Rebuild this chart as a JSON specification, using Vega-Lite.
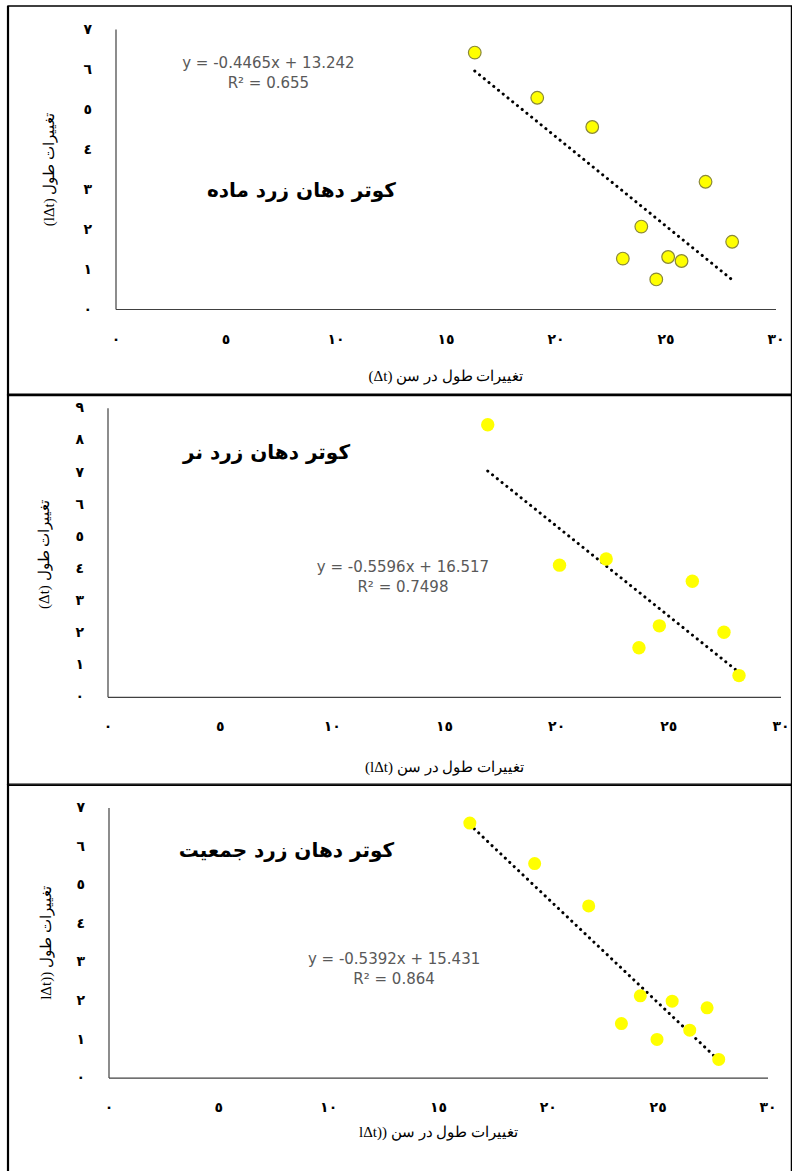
{
  "$schema": "https://vega.github.io/schema/vega-lite/v6.json",
  "padding": {"left": 6.5, "top": 4, "right": 0, "bottom": 0},
  "background": "white",
  "columns": 1,
  "align": "none",
  "spacing": -4.2,
  "config": {
    "view": {"stroke": null},
    "axisX": {"grid": false, "ticks": false, "tickSize": 0, "domainColor": "#404040", "domainWidth": 1.2, "labelFont": "DejaVu Sans", "labelFontWeight": "bold", "labelFontSize": 14, "labelColor": "black", "labelPadding": 23, "labelFlush": false, "labelOverlap": false, "titleFont": "Liberation Serif", "titleFontSize": 15, "titleFontWeight": "normal", "titleColor": "black", "titleBaseline": "middle"},
    "axisY": {"grid": false, "ticks": false, "tickSize": 0, "domainColor": "#404040", "domainWidth": 1.2, "labelFont": "DejaVu Sans", "labelFontWeight": "bold", "labelFontSize": 14, "labelColor": "black", "labelPadding": 24, "labelFlush": false, "labelOverlap": false, "titleFont": "Liberation Serif", "titleFontSize": 15, "titleFontWeight": "normal", "titleColor": "black", "titleAngle": 270, "titleBaseline": "middle", "titleAlign": "center"}
  },
  "datasets": {
    "female": [
      {"x": 16.33, "y": 6.41}, {"x": 19.17, "y": 5.28}, {"x": 21.67, "y": 4.55}, {"x": 26.82, "y": 3.18}, {"x": 23.9, "y": 2.06},
      {"x": 28.03, "y": 1.68}, {"x": 23.06, "y": 1.26}, {"x": 25.12, "y": 1.3}, {"x": 25.73, "y": 1.2}, {"x": 24.58, "y": 0.74}
    ],
    "female_trend": [{"x": 16.33, "y": 5.95}, {"x": 28.03, "y": 0.73}],
    "male": [
      {"x": 16.95, "y": 8.47}, {"x": 20.15, "y": 4.1}, {"x": 22.23, "y": 4.29}, {"x": 26.07, "y": 3.6},
      {"x": 24.6, "y": 2.21}, {"x": 23.69, "y": 1.53}, {"x": 27.48, "y": 2.01}, {"x": 28.15, "y": 0.66}
    ],
    "male_trend": [{"x": 16.95, "y": 7.03}, {"x": 28.15, "y": 0.76}],
    "pop": [
      {"x": 16.45, "y": 6.6}, {"x": 19.4, "y": 5.55}, {"x": 21.86, "y": 4.45}, {"x": 24.21, "y": 2.12}, {"x": 25.66, "y": 1.98},
      {"x": 27.25, "y": 1.81}, {"x": 23.35, "y": 1.4}, {"x": 26.46, "y": 1.23}, {"x": 24.97, "y": 0.99}, {"x": 27.78, "y": 0.47}
    ],
    "pop_trend": [{"x": 16.45, "y": 6.56}, {"x": 27.78, "y": 0.45}]
  },
  "concat": [
    {
      "width": 660, "height": 280,
      "layer": [
        {
          "data": {"values": [{}]},
          "mark": {"type": "rect", "filled": false, "color": "black", "strokeWidth": 1.4, "clip": false},
          "encoding": {
            "x": {"datum": -4.886, "type": "quantitative", "scale": {"domain": [0, 30], "nice": false, "zero": false},
                  "axis": {"values": [0, 5, 10, 15, 20, 25, 30], "labelOverlap": false, "title": "(Δt) تغییرات طول در سن", "titleY": 66, "labelExpr": "replace(replace(replace(replace(replace(replace(replace(replace(replace(replace(datum.label,'0','٠'),'1','١'),'2','٢'),'3','٣'),'4','٤'),'5','٥'),'6','٦'),'7','٧'),'8','٨'),'9','٩')"}},
            "x2": {"datum": 30.727},
            "y": {"datum": 7.575, "type": "quantitative", "scale": {"domain": [0, 7], "nice": false, "zero": false},
                  "axis": {"values": [0, 1, 2, 3, 4, 5, 6, 7], "labelOverlap": false, "title": "(lΔt) تغییرات طول", "titleX": -67, "titleY": 140, "labelExpr": "replace(replace(replace(replace(replace(replace(replace(replace(replace(replace(datum.label,'0','٠'),'1','١'),'2','٢'),'3','٣'),'4','٤'),'5','٥'),'6','٦'),'7','٧'),'8','٨'),'9','٩')"}},
            "y2": {"datum": -2.1625}
          }
        },
        {
          "data": {"values": [{}]},
          "mark": {"type": "rule", "color": "black", "strokeWidth": 2.2, "clip": false},
          "encoding": {
            "x": {"datum": -4.886, "type": "quantitative", "scale": {"domain": [0, 30], "nice": false, "zero": false},
                  "axis": {"values": [0, 5, 10, 15, 20, 25, 30], "labelOverlap": false, "title": "(Δt) تغییرات طول در سن", "titleY": 66, "labelExpr": "replace(replace(replace(replace(replace(replace(replace(replace(replace(replace(datum.label,'0','٠'),'1','١'),'2','٢'),'3','٣'),'4','٤'),'5','٥'),'6','٦'),'7','٧'),'8','٨'),'9','٩')"}},
            "y": {"datum": 7.575, "type": "quantitative", "scale": {"domain": [0, 7], "nice": false, "zero": false},
                  "axis": {"values": [0, 1, 2, 3, 4, 5, 6, 7], "labelOverlap": false, "title": "(lΔt) تغییرات طول", "titleX": -67, "titleY": 140, "labelExpr": "replace(replace(replace(replace(replace(replace(replace(replace(replace(replace(datum.label,'0','٠'),'1','١'),'2','٢'),'3','٣'),'4','٤'),'5','٥'),'6','٦'),'7','٧'),'8','٨'),'9','٩')"}},
            "y2": {"datum": -2.1625}
          }
        },
        {
          "data": {"name": "female_trend"},
          "mark": {"type": "line", "color": "black", "strokeWidth": 3, "strokeDash": [0.1, 6], "strokeCap": "round"},
          "encoding": {
            "x": {"field": "x", "type": "quantitative", "scale": {"domain": [0, 30], "nice": false, "zero": false},
                  "axis": {"values": [0, 5, 10, 15, 20, 25, 30], "labelOverlap": false, "title": "(Δt) تغییرات طول در سن", "titleY": 66, "labelExpr": "replace(replace(replace(replace(replace(replace(replace(replace(replace(replace(datum.label,'0','٠'),'1','١'),'2','٢'),'3','٣'),'4','٤'),'5','٥'),'6','٦'),'7','٧'),'8','٨'),'9','٩')"}},
            "y": {"field": "y", "type": "quantitative", "scale": {"domain": [0, 7], "nice": false, "zero": false},
                  "axis": {"values": [0, 1, 2, 3, 4, 5, 6, 7], "labelOverlap": false, "title": "(lΔt) تغییرات طول", "titleX": -67, "titleY": 140, "labelExpr": "replace(replace(replace(replace(replace(replace(replace(replace(replace(replace(datum.label,'0','٠'),'1','١'),'2','٢'),'3','٣'),'4','٤'),'5','٥'),'6','٦'),'7','٧'),'8','٨'),'9','٩')"}}
          }
        },
        {
          "data": {"name": "female"},
          "mark": {"type": "circle", "fill": "#FFFF00", "stroke": "#8a8838", "strokeWidth": 1.2, "size": 160, "opacity": 1},
          "encoding": {
            "x": {"field": "x", "type": "quantitative", "scale": {"domain": [0, 30], "nice": false, "zero": false},
                  "axis": {"values": [0, 5, 10, 15, 20, 25, 30], "labelOverlap": false, "title": "(Δt) تغییرات طول در سن", "titleY": 66, "labelExpr": "replace(replace(replace(replace(replace(replace(replace(replace(replace(replace(datum.label,'0','٠'),'1','١'),'2','٢'),'3','٣'),'4','٤'),'5','٥'),'6','٦'),'7','٧'),'8','٨'),'9','٩')"}},
            "y": {"field": "y", "type": "quantitative", "scale": {"domain": [0, 7], "nice": false, "zero": false},
                  "axis": {"values": [0, 1, 2, 3, 4, 5, 6, 7], "labelOverlap": false, "title": "(lΔt) تغییرات طول", "titleX": -67, "titleY": 140, "labelExpr": "replace(replace(replace(replace(replace(replace(replace(replace(replace(replace(datum.label,'0','٠'),'1','١'),'2','٢'),'3','٣'),'4','٤'),'5','٥'),'6','٦'),'7','٧'),'8','٨'),'9','٩')"}}
          }
        },
        {
          "data": {"values": [{}]},
          "mark": {"type": "text", "font": "DejaVu Sans", "fontSize": 15, "lineHeight": 20, "color": "#595959", "align": "center", "baseline": "middle"},
          "encoding": {
            "x": {"datum": 6.95, "type": "quantitative", "scale": {"domain": [0, 30], "nice": false, "zero": false},
                  "axis": {"values": [0, 5, 10, 15, 20, 25, 30], "labelOverlap": false, "title": "(Δt) تغییرات طول در سن", "titleY": 66, "labelExpr": "replace(replace(replace(replace(replace(replace(replace(replace(replace(replace(datum.label,'0','٠'),'1','١'),'2','٢'),'3','٣'),'4','٤'),'5','٥'),'6','٦'),'7','٧'),'8','٨'),'9','٩')"}},
            "y": {"datum": 6.15, "type": "quantitative", "scale": {"domain": [0, 7], "nice": false, "zero": false},
                  "axis": {"values": [0, 1, 2, 3, 4, 5, 6, 7], "labelOverlap": false, "title": "(lΔt) تغییرات طول", "titleX": -67, "titleY": 140, "labelExpr": "replace(replace(replace(replace(replace(replace(replace(replace(replace(replace(datum.label,'0','٠'),'1','١'),'2','٢'),'3','٣'),'4','٤'),'5','٥'),'6','٦'),'7','٧'),'8','٨'),'9','٩')"}},
            "text": {"value": ["y = -0.4465x + 13.242", "R² = 0.655"]}
          }
        },
        {
          "data": {"values": [{}]},
          "mark": {"type": "text", "font": "DejaVu Sans", "fontSize": 20, "fontWeight": "bold", "color": "black", "align": "center", "baseline": "middle"},
          "encoding": {
            "x": {"datum": 8.45, "type": "quantitative", "scale": {"domain": [0, 30], "nice": false, "zero": false},
                  "axis": {"values": [0, 5, 10, 15, 20, 25, 30], "labelOverlap": false, "title": "(Δt) تغییرات طول در سن", "titleY": 66, "labelExpr": "replace(replace(replace(replace(replace(replace(replace(replace(replace(replace(datum.label,'0','٠'),'1','١'),'2','٢'),'3','٣'),'4','٤'),'5','٥'),'6','٦'),'7','٧'),'8','٨'),'9','٩')"}},
            "y": {"datum": 2.95, "type": "quantitative", "scale": {"domain": [0, 7], "nice": false, "zero": false},
                  "axis": {"values": [0, 1, 2, 3, 4, 5, 6, 7], "labelOverlap": false, "title": "(lΔt) تغییرات طول", "titleX": -67, "titleY": 140, "labelExpr": "replace(replace(replace(replace(replace(replace(replace(replace(replace(replace(datum.label,'0','٠'),'1','١'),'2','٢'),'3','٣'),'4','٤'),'5','٥'),'6','٦'),'7','٧'),'8','٨'),'9','٩')"}},
            "text": {"value": "کوتر دهان زرد ماده"}
          }
        }
      ]
    },
    {
      "width": 673, "height": 289,
      "layer": [
        {
          "data": {"values": [{}]},
          "mark": {"type": "rect", "filled": false, "color": "black", "strokeWidth": 1.4, "clip": false},
          "encoding": {
            "x": {"datum": -4.435, "type": "quantitative", "scale": {"domain": [0, 30], "range": [-8, 665], "nice": false, "zero": false},
                  "axis": {"values": [0, 5, 10, 15, 20, 25, 30], "labelOverlap": false, "title": "(lΔt) تغییرات طول در سن", "titleY": 70, "labelExpr": "replace(replace(replace(replace(replace(replace(replace(replace(replace(replace(datum.label,'0','٠'),'1','١'),'2','٢'),'3','٣'),'4','٤'),'5','٥'),'6','٦'),'7','٧'),'8','٨'),'9','٩')"}},
            "x2": {"datum": 30.49},
            "y": {"datum": 9.42, "type": "quantitative", "scale": {"domain": [0, 9], "nice": false, "zero": false},
                  "axis": {"values": [0, 1, 2, 3, 4, 5, 6, 7, 8, 9], "labelOverlap": false, "offset": 8, "title": "(Δt) تغییرات طول", "titleX": -64, "titleY": 146, "labelExpr": "replace(replace(replace(replace(replace(replace(replace(replace(replace(replace(datum.label,'0','٠'),'1','١'),'2','٢'),'3','٣'),'4','٤'),'5','٥'),'6','٦'),'7','٧'),'8','٨'),'9','٩')"}},
            "y2": {"datum": -2.756}
          }
        },
        {
          "data": {"values": [{}]},
          "mark": {"type": "rule", "color": "black", "strokeWidth": 2.2, "clip": false},
          "encoding": {
            "x": {"datum": -4.435, "type": "quantitative", "scale": {"domain": [0, 30], "range": [-8, 665], "nice": false, "zero": false},
                  "axis": {"values": [0, 5, 10, 15, 20, 25, 30], "labelOverlap": false, "title": "(lΔt) تغییرات طول در سن", "titleY": 70, "labelExpr": "replace(replace(replace(replace(replace(replace(replace(replace(replace(replace(datum.label,'0','٠'),'1','١'),'2','٢'),'3','٣'),'4','٤'),'5','٥'),'6','٦'),'7','٧'),'8','٨'),'9','٩')"}},
            "y": {"datum": 9.42, "type": "quantitative", "scale": {"domain": [0, 9], "nice": false, "zero": false},
                  "axis": {"values": [0, 1, 2, 3, 4, 5, 6, 7, 8, 9], "labelOverlap": false, "offset": 8, "title": "(Δt) تغییرات طول", "titleX": -64, "titleY": 146, "labelExpr": "replace(replace(replace(replace(replace(replace(replace(replace(replace(replace(datum.label,'0','٠'),'1','١'),'2','٢'),'3','٣'),'4','٤'),'5','٥'),'6','٦'),'7','٧'),'8','٨'),'9','٩')"}},
            "y2": {"datum": -2.756}
          }
        },
        {
          "data": {"name": "male_trend"},
          "mark": {"type": "line", "color": "black", "strokeWidth": 3, "strokeDash": [0.1, 6], "strokeCap": "round"},
          "encoding": {
            "x": {"field": "x", "type": "quantitative", "scale": {"domain": [0, 30], "range": [-8, 665], "nice": false, "zero": false},
                  "axis": {"values": [0, 5, 10, 15, 20, 25, 30], "labelOverlap": false, "title": "(lΔt) تغییرات طول در سن", "titleY": 70, "labelExpr": "replace(replace(replace(replace(replace(replace(replace(replace(replace(replace(datum.label,'0','٠'),'1','١'),'2','٢'),'3','٣'),'4','٤'),'5','٥'),'6','٦'),'7','٧'),'8','٨'),'9','٩')"}},
            "y": {"field": "y", "type": "quantitative", "scale": {"domain": [0, 9], "nice": false, "zero": false},
                  "axis": {"values": [0, 1, 2, 3, 4, 5, 6, 7, 8, 9], "labelOverlap": false, "offset": 8, "title": "(Δt) تغییرات طول", "titleX": -64, "titleY": 146, "labelExpr": "replace(replace(replace(replace(replace(replace(replace(replace(replace(replace(datum.label,'0','٠'),'1','١'),'2','٢'),'3','٣'),'4','٤'),'5','٥'),'6','٦'),'7','٧'),'8','٨'),'9','٩')"}}
          }
        },
        {
          "data": {"name": "male"},
          "mark": {"type": "circle", "fill": "#FFFF00", "size": 180, "opacity": 1},
          "encoding": {
            "x": {"field": "x", "type": "quantitative", "scale": {"domain": [0, 30], "range": [-8, 665], "nice": false, "zero": false},
                  "axis": {"values": [0, 5, 10, 15, 20, 25, 30], "labelOverlap": false, "title": "(lΔt) تغییرات طول در سن", "titleY": 70, "labelExpr": "replace(replace(replace(replace(replace(replace(replace(replace(replace(replace(datum.label,'0','٠'),'1','١'),'2','٢'),'3','٣'),'4','٤'),'5','٥'),'6','٦'),'7','٧'),'8','٨'),'9','٩')"}},
            "y": {"field": "y", "type": "quantitative", "scale": {"domain": [0, 9], "nice": false, "zero": false},
                  "axis": {"values": [0, 1, 2, 3, 4, 5, 6, 7, 8, 9], "labelOverlap": false, "offset": 8, "title": "(Δt) تغییرات طول", "titleX": -64, "titleY": 146, "labelExpr": "replace(replace(replace(replace(replace(replace(replace(replace(replace(replace(datum.label,'0','٠'),'1','١'),'2','٢'),'3','٣'),'4','٤'),'5','٥'),'6','٦'),'7','٧'),'8','٨'),'9','٩')"}}
          }
        },
        {
          "data": {"values": [{}]},
          "mark": {"type": "text", "font": "DejaVu Sans", "fontSize": 15, "lineHeight": 20, "color": "#595959", "align": "center", "baseline": "middle"},
          "encoding": {
            "x": {"datum": 13.17, "type": "quantitative", "scale": {"domain": [0, 30], "range": [-8, 665], "nice": false, "zero": false},
                  "axis": {"values": [0, 5, 10, 15, 20, 25, 30], "labelOverlap": false, "title": "(lΔt) تغییرات طول در سن", "titleY": 70, "labelExpr": "replace(replace(replace(replace(replace(replace(replace(replace(replace(replace(datum.label,'0','٠'),'1','١'),'2','٢'),'3','٣'),'4','٤'),'5','٥'),'6','٦'),'7','٧'),'8','٨'),'9','٩')"}},
            "y": {"datum": 4.05, "type": "quantitative", "scale": {"domain": [0, 9], "nice": false, "zero": false},
                  "axis": {"values": [0, 1, 2, 3, 4, 5, 6, 7, 8, 9], "labelOverlap": false, "offset": 8, "title": "(Δt) تغییرات طول", "titleX": -64, "titleY": 146, "labelExpr": "replace(replace(replace(replace(replace(replace(replace(replace(replace(replace(datum.label,'0','٠'),'1','١'),'2','٢'),'3','٣'),'4','٤'),'5','٥'),'6','٦'),'7','٧'),'8','٨'),'9','٩')"}},
            "text": {"value": ["y = -0.5596x + 16.517", "R² = 0.7498"]}
          }
        },
        {
          "data": {"values": [{}]},
          "mark": {"type": "text", "font": "DejaVu Sans", "fontSize": 20, "fontWeight": "bold", "color": "black", "align": "center", "baseline": "middle"},
          "encoding": {
            "x": {"datum": 7.09, "type": "quantitative", "scale": {"domain": [0, 30], "range": [-8, 665], "nice": false, "zero": false},
                  "axis": {"values": [0, 5, 10, 15, 20, 25, 30], "labelOverlap": false, "title": "(lΔt) تغییرات طول در سن", "titleY": 70, "labelExpr": "replace(replace(replace(replace(replace(replace(replace(replace(replace(replace(datum.label,'0','٠'),'1','١'),'2','٢'),'3','٣'),'4','٤'),'5','٥'),'6','٦'),'7','٧'),'8','٨'),'9','٩')"}},
            "y": {"datum": 7.6, "type": "quantitative", "scale": {"domain": [0, 9], "nice": false, "zero": false},
                  "axis": {"values": [0, 1, 2, 3, 4, 5, 6, 7, 8, 9], "labelOverlap": false, "offset": 8, "title": "(Δt) تغییرات طول", "titleX": -64, "titleY": 146, "labelExpr": "replace(replace(replace(replace(replace(replace(replace(replace(replace(replace(datum.label,'0','٠'),'1','١'),'2','٢'),'3','٣'),'4','٤'),'5','٥'),'6','٦'),'7','٧'),'8','٨'),'9','٩')"}},
            "text": {"value": "کوتر دهان زرد نر"}
          }
        }
      ]
    },
    {
      "width": 659, "height": 270,
      "layer": [
        {
          "data": {"values": [{}]},
          "mark": {"type": "rect", "filled": false, "color": "black", "strokeWidth": 1.4, "clip": false},
          "encoding": {
            "x": {"datum": -4.575, "type": "quantitative", "scale": {"domain": [0, 30], "range": [-7, 652], "nice": false, "zero": false},
                  "axis": {"values": [0, 5, 10, 15, 20, 25, 30], "labelOverlap": false, "title": "lΔt)) تغییرات طول در سن", "titleY": 54, "labelExpr": "replace(replace(replace(replace(replace(replace(replace(replace(replace(replace(datum.label,'0','٠'),'1','١'),'2','٢'),'3','٣'),'4','٤'),'5','٥'),'6','٦'),'7','٧'),'8','٨'),'9','٩')"}},
            "x2": {"datum": 31.09},
            "y": {"datum": 7.609, "type": "quantitative", "scale": {"domain": [0, 7], "nice": false, "zero": false},
                  "axis": {"values": [0, 1, 2, 3, 4, 5, 6, 7], "labelOverlap": false, "offset": 7, "title": "lΔt)) تغییرات طول", "titleX": -63, "titleY": 135, "labelExpr": "replace(replace(replace(replace(replace(replace(replace(replace(replace(replace(datum.label,'0','٠'),'1','١'),'2','٢'),'3','٣'),'4','٤'),'5','٥'),'6','٦'),'7','٧'),'8','٨'),'9','٩')"}},
            "y2": {"datum": -2.489}
          }
        },
        {
          "data": {"values": [{}]},
          "mark": {"type": "rule", "color": "black", "strokeWidth": 2.2, "clip": false},
          "encoding": {
            "x": {"datum": -4.575, "type": "quantitative", "scale": {"domain": [0, 30], "range": [-7, 652], "nice": false, "zero": false},
                  "axis": {"values": [0, 5, 10, 15, 20, 25, 30], "labelOverlap": false, "title": "lΔt)) تغییرات طول در سن", "titleY": 54, "labelExpr": "replace(replace(replace(replace(replace(replace(replace(replace(replace(replace(datum.label,'0','٠'),'1','١'),'2','٢'),'3','٣'),'4','٤'),'5','٥'),'6','٦'),'7','٧'),'8','٨'),'9','٩')"}},
            "y": {"datum": 7.609, "type": "quantitative", "scale": {"domain": [0, 7], "nice": false, "zero": false},
                  "axis": {"values": [0, 1, 2, 3, 4, 5, 6, 7], "labelOverlap": false, "offset": 7, "title": "lΔt)) تغییرات طول", "titleX": -63, "titleY": 135, "labelExpr": "replace(replace(replace(replace(replace(replace(replace(replace(replace(replace(datum.label,'0','٠'),'1','١'),'2','٢'),'3','٣'),'4','٤'),'5','٥'),'6','٦'),'7','٧'),'8','٨'),'9','٩')"}},
            "y2": {"datum": -2.489}
          }
        },
        {
          "data": {"name": "pop_trend"},
          "mark": {"type": "line", "color": "black", "strokeWidth": 3, "strokeDash": [0.1, 6], "strokeCap": "round"},
          "encoding": {
            "x": {"field": "x", "type": "quantitative", "scale": {"domain": [0, 30], "range": [-7, 652], "nice": false, "zero": false},
                  "axis": {"values": [0, 5, 10, 15, 20, 25, 30], "labelOverlap": false, "title": "lΔt)) تغییرات طول در سن", "titleY": 54, "labelExpr": "replace(replace(replace(replace(replace(replace(replace(replace(replace(replace(datum.label,'0','٠'),'1','١'),'2','٢'),'3','٣'),'4','٤'),'5','٥'),'6','٦'),'7','٧'),'8','٨'),'9','٩')"}},
            "y": {"field": "y", "type": "quantitative", "scale": {"domain": [0, 7], "nice": false, "zero": false},
                  "axis": {"values": [0, 1, 2, 3, 4, 5, 6, 7], "labelOverlap": false, "offset": 7, "title": "lΔt)) تغییرات طول", "titleX": -63, "titleY": 135, "labelExpr": "replace(replace(replace(replace(replace(replace(replace(replace(replace(replace(datum.label,'0','٠'),'1','١'),'2','٢'),'3','٣'),'4','٤'),'5','٥'),'6','٦'),'7','٧'),'8','٨'),'9','٩')"}}
          }
        },
        {
          "data": {"name": "pop"},
          "mark": {"type": "circle", "fill": "#FFFF00", "size": 170, "opacity": 1},
          "encoding": {
            "x": {"field": "x", "type": "quantitative", "scale": {"domain": [0, 30], "range": [-7, 652], "nice": false, "zero": false},
                  "axis": {"values": [0, 5, 10, 15, 20, 25, 30], "labelOverlap": false, "title": "lΔt)) تغییرات طول در سن", "titleY": 54, "labelExpr": "replace(replace(replace(replace(replace(replace(replace(replace(replace(replace(datum.label,'0','٠'),'1','١'),'2','٢'),'3','٣'),'4','٤'),'5','٥'),'6','٦'),'7','٧'),'8','٨'),'9','٩')"}},
            "y": {"field": "y", "type": "quantitative", "scale": {"domain": [0, 7], "nice": false, "zero": false},
                  "axis": {"values": [0, 1, 2, 3, 4, 5, 6, 7], "labelOverlap": false, "offset": 7, "title": "lΔt)) تغییرات طول", "titleX": -63, "titleY": 135, "labelExpr": "replace(replace(replace(replace(replace(replace(replace(replace(replace(replace(datum.label,'0','٠'),'1','١'),'2','٢'),'3','٣'),'4','٤'),'5','٥'),'6','٦'),'7','٧'),'8','٨'),'9','٩')"}}
          }
        },
        {
          "data": {"values": [{}]},
          "mark": {"type": "text", "font": "DejaVu Sans", "fontSize": 15, "lineHeight": 20, "color": "#595959", "align": "center", "baseline": "middle"},
          "encoding": {
            "x": {"datum": 13.0, "type": "quantitative", "scale": {"domain": [0, 30], "range": [-7, 652], "nice": false, "zero": false},
                  "axis": {"values": [0, 5, 10, 15, 20, 25, 30], "labelOverlap": false, "title": "lΔt)) تغییرات طول در سن", "titleY": 54, "labelExpr": "replace(replace(replace(replace(replace(replace(replace(replace(replace(replace(datum.label,'0','٠'),'1','١'),'2','٢'),'3','٣'),'4','٤'),'5','٥'),'6','٦'),'7','٧'),'8','٨'),'9','٩')"}},
            "y": {"datum": 3.085, "type": "quantitative", "scale": {"domain": [0, 7], "nice": false, "zero": false},
                  "axis": {"values": [0, 1, 2, 3, 4, 5, 6, 7], "labelOverlap": false, "offset": 7, "title": "lΔt)) تغییرات طول", "titleX": -63, "titleY": 135, "labelExpr": "replace(replace(replace(replace(replace(replace(replace(replace(replace(replace(datum.label,'0','٠'),'1','١'),'2','٢'),'3','٣'),'4','٤'),'5','٥'),'6','٦'),'7','٧'),'8','٨'),'9','٩')"}},
            "text": {"value": ["y = -0.5392x + 15.431", "R² = 0.864"]}
          }
        },
        {
          "data": {"values": [{}]},
          "mark": {"type": "text", "font": "DejaVu Sans", "fontSize": 20, "fontWeight": "bold", "color": "black", "align": "center", "baseline": "middle"},
          "encoding": {
            "x": {"datum": 8.1, "type": "quantitative", "scale": {"domain": [0, 30], "range": [-7, 652], "nice": false, "zero": false},
                  "axis": {"values": [0, 5, 10, 15, 20, 25, 30], "labelOverlap": false, "title": "lΔt)) تغییرات طول در سن", "titleY": 54, "labelExpr": "replace(replace(replace(replace(replace(replace(replace(replace(replace(replace(datum.label,'0','٠'),'1','١'),'2','٢'),'3','٣'),'4','٤'),'5','٥'),'6','٦'),'7','٧'),'8','٨'),'9','٩')"}},
            "y": {"datum": 5.885, "type": "quantitative", "scale": {"domain": [0, 7], "nice": false, "zero": false},
                  "axis": {"values": [0, 1, 2, 3, 4, 5, 6, 7], "labelOverlap": false, "offset": 7, "title": "lΔt)) تغییرات طول", "titleX": -63, "titleY": 135, "labelExpr": "replace(replace(replace(replace(replace(replace(replace(replace(replace(replace(datum.label,'0','٠'),'1','١'),'2','٢'),'3','٣'),'4','٤'),'5','٥'),'6','٦'),'7','٧'),'8','٨'),'9','٩')"}},
            "text": {"value": "کوتر دهان زرد جمعیت"}
          }
        }
      ]
    }
  ]
}
